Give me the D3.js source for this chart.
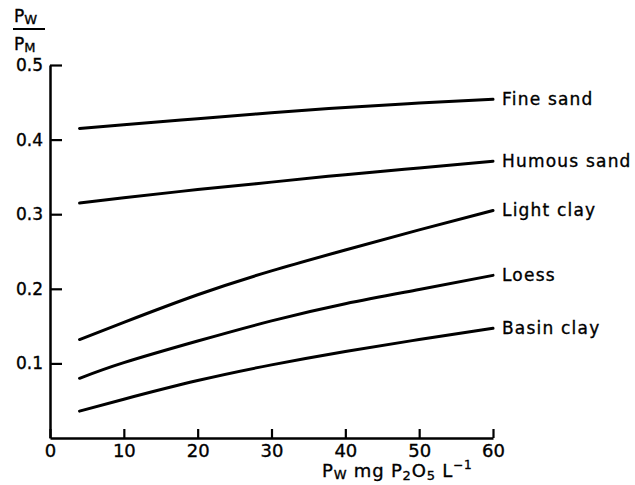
<!DOCTYPE html>
<html>
<head>
<meta charset="utf-8">
<script src="https://cdn.jsdelivr.net/npm/d3@7"></script>
<style>
  html, body { margin: 0; padding: 0; background: #fff; }
  svg { display: block; }
  text { font-family: "DejaVu Sans", sans-serif; fill: #000; stroke: #000; stroke-width: 0.35; }
</style>
</head>
<body>
<svg id="chart" width="635" height="485"></svg>
<script>
// Phosphate concentration in the soil water (mg P2O5 per litre)
const concentration = [4, 10, 20, 30, 40, 50, 60];

// Ratio Pw / Pm for each soil type
const fineSand    = [0.415, 0.420, 0.428, 0.436, 0.443, 0.449, 0.454];
const humousSand  = [0.315, 0.322, 0.333, 0.343, 0.353, 0.362, 0.371];
const lightClay   = [0.132, 0.155, 0.192, 0.224, 0.252, 0.279, 0.305];
const loess       = [0.080, 0.101, 0.130, 0.157, 0.180, 0.199, 0.218];
const basinClay   = [0.036, 0.052, 0.077, 0.098, 0.116, 0.132, 0.147];

const soilNames = ["Fine sand", "Humous sand", "Light clay", "Loess", "Basin clay"];
const soilValues = [fineSand, humousSand, lightClay, loess, basinClay];

const xTicks = [0, 10, 20, 30, 40, 50, 60];
const yTicks = [0.1, 0.2, 0.3, 0.4, 0.5];

const svg = d3.select("#chart");
const x = d3.scaleLinear().domain([0, 60]).range([50, 493]);
const y = d3.scaleLinear().domain([0, 0.5]).range([438, 65]);

// x axis, ticks pointing inward
const gx = svg.append("g").attr("transform", `translate(0,${y(0)})`)
  .call(d3.axisBottom(x).tickValues(xTicks).tickFormat(d3.format("d"))
        .tickSizeInner(-9).tickSizeOuter(0).tickPadding(6));
gx.select(".domain").attr("stroke-width", 2.5);
gx.selectAll(".tick line").attr("stroke-width", 2.2);
gx.selectAll(".tick text").attr("font-size", 18).attr("font-family", "DejaVu Sans");

// y axis, ticks pointing inward
const gy = svg.append("g").attr("transform", `translate(${x(0)},0)`)
  .call(d3.axisLeft(y).tickValues(yTicks).tickFormat(d3.format(".1f"))
        .tickSizeInner(-12).tickSizeOuter(0).tickPadding(7));
gy.select(".domain").attr("stroke-width", 2.5);
gy.selectAll(".tick line").attr("stroke-width", 2.2);
gy.selectAll(".tick text").attr("font-size", 17).attr("font-family", "DejaVu Sans");

// curves
const line = d3.line()
  .x((d, i) => x(concentration[i]))
  .y(d => y(d))
  .curve(d3.curveNatural);

soilValues.forEach((vals, k) => {
  svg.append("path").datum(vals)
    .attr("d", line)
    .attr("fill", "none")
    .attr("stroke", "#000")
    .attr("stroke-width", 3)
    .attr("stroke-linecap", "round");
  svg.append("text")
    .attr("x", x(60) + 9)
    .attr("y", y(vals[vals.length - 1]))
    .attr("dy", "0.35em")
    .attr("font-size", 17)
    .attr("letter-spacing", 1.2)
    .text(soilNames[k]);
});

// y axis title: Pw / Pm
const yt = svg.append("g");
yt.append("text").attr("x", 14).attr("y", 22).attr("font-size", 17)
  .text("P").append("tspan").attr("font-size", 13).attr("dy", 2).text("W");
yt.append("line").attr("x1", 13).attr("x2", 45).attr("y1", 29).attr("y2", 29)
  .attr("stroke", "#000").attr("stroke-width", 2);
yt.append("text").attr("x", 14).attr("y", 50).attr("font-size", 17)
  .text("P").append("tspan").attr("font-size", 13).attr("dy", 2).text("M");

// x axis title: Pw mg P2O5 L-1
const xt = svg.append("text").attr("x", 322).attr("y", 477).attr("font-size", 18)
  .attr("letter-spacing", 0.8);
xt.append("tspan").text("P");
xt.append("tspan").attr("font-size", 13).attr("dy", 2).text("W");
xt.append("tspan").attr("dy", -2).text(" mg P");
xt.append("tspan").attr("font-size", 13).attr("dy", 3).text("2");
xt.append("tspan").attr("dy", -3).text("O");
xt.append("tspan").attr("font-size", 13).attr("dy", 3).text("5");
xt.append("tspan").attr("dy", -3).text(" L");
xt.append("tspan").attr("font-size", 12).attr("dy", -8).text("−1");
</script>
</body>
</html>
